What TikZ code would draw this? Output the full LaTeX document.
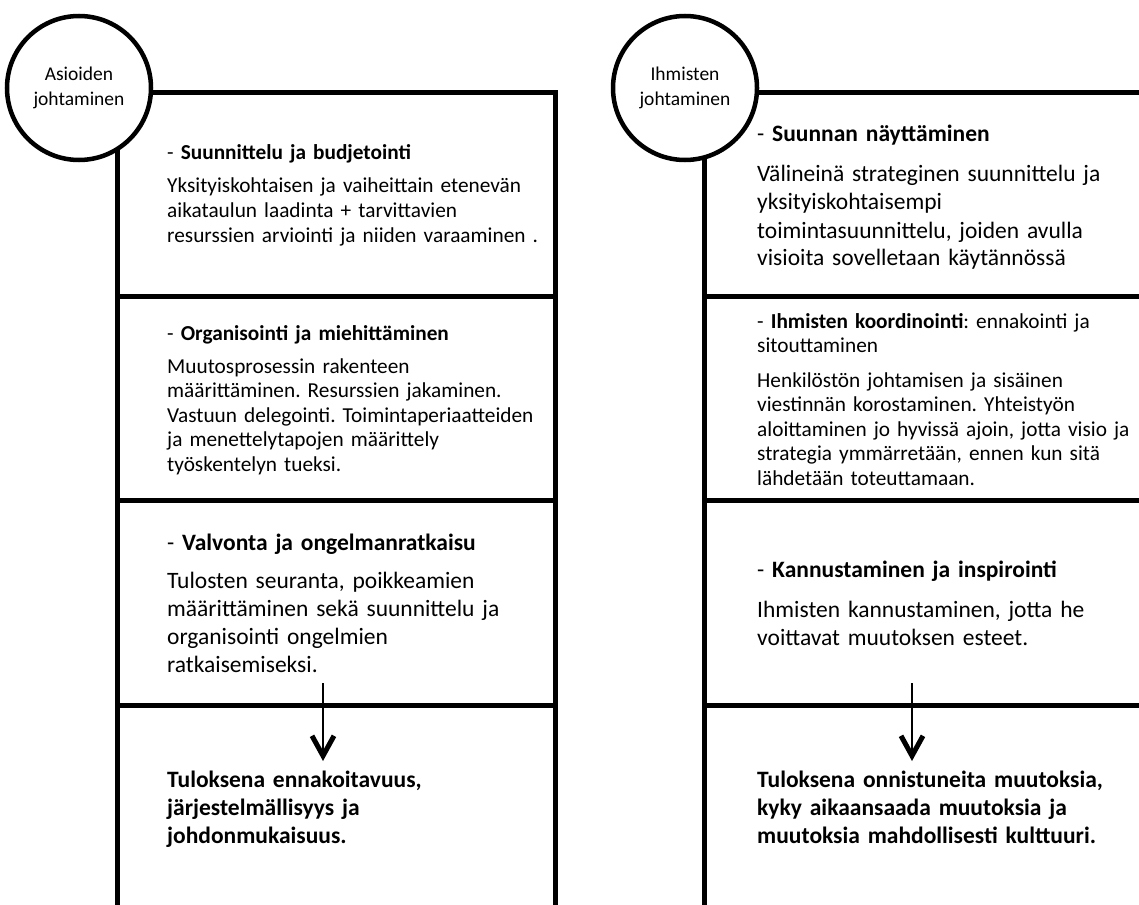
\documentclass[tikz,border=0pt]{standalone}
\usepackage{fontspec}
\setmainfont{Carlito}
\frenchspacing
\usetikzlibrary{arrows.meta}
\definecolor{InkBlack}{HTML}{000000}
\tikzset{
  topic/.style={circle, draw=InkBlack, line width=4.5pt, fill=white, minimum size=144pt, inner sep=0pt, align=center, font=\fontsize{19.5}{25}\selectfont},
  frame/.style={draw=InkBlack, line width=5pt},
  smalltext/.style={anchor=base west, inner sep=0pt, text width=380pt, align=left, font=\fontsize{21.3}{24.5}\selectfont},
  bigtext/.style={anchor=base west, inner sep=0pt, text width=380pt, align=left, font=\fontsize{23.5}{28}\selectfont},
  downarrow/.style={-{Straight Barb[length=20pt, width=22pt, line width=5pt]}, line width=1.8pt, draw=InkBlack}
}

\begin{document}
\begin{tikzpicture}[x=1pt, y=-1pt]
\useasboundingbox (0,0) rectangle (1139,904);
% left column frame
\draw[frame] (80,93) -- (555,93) -- (555,910);
\draw[frame] (117,88) -- (117,910);
\draw[frame] (117,296) -- (555,296);
\draw[frame] (117,500) -- (555,500);
\draw[frame] (117,705) -- (555,705);
% right column frame
\draw[frame] (685,93) -- (1150,93);
\draw[frame] (704,88) -- (704,910);
\draw[frame] (704,296) -- (1150,296);
\draw[frame] (704,500) -- (1150,500);
\draw[frame] (704,705) -- (1150,705);
\node[topic] (asiat) at (79,88) {Asioiden\\johtaminen};
\node[topic] (ihmiset) at (685,88) {Ihmisten\\johtaminen};
% left column texts
\node[smalltext] (suunhead) at (167,160) {- \textbf{Suunnittelu ja budjetointi}};
\node[smalltext] (suunbody) at (167,193) {Yksityiskohtaisen ja vaiheittain etenevän\\aikataulun laadinta + tarvittavien\\resurssien arviointi ja niiden varaaminen .};
\node[smalltext] (orghead) at (167,340) {- \textbf{Organisointi ja miehittäminen}};
\node[smalltext] (orgbody) at (167,373) {Muutosprosessin rakenteen\\määrittäminen. Resurssien jakaminen.\\Vastuun delegointi. Toimintaperiaatteiden\\ja menettelytapojen määrittely\\työskentelyn tueksi.};
\node[bigtext] (valhead) at (167,550) {- \textbf{Valvonta ja ongelmanratkaisu}};
\node[bigtext] (valbody) at (167,588) {Tulosten seuranta, poikkeamien\\määrittäminen sekä suunnittelu ja\\organisointi ongelmien\\ratkaisemiseksi.};
\node[bigtext] (asiatres) at (167,787) {\textbf{Tuloksena ennakoitavuus,\\järjestelmällisyys ja\\johdonmukaisuus.}};
% right column texts
\node[bigtext] (suunnhead) at (757,142) {- \textbf{Suunnan näyttäminen}};
\node[bigtext] (suunnbody) at (757,182) {Välineinä strateginen suunnittelu ja\\yksityiskohtaisempi\\toimintasuunnittelu, joiden avulla\\visioita sovelletaan käytännössä};
\node[smalltext] (koorhead) at (757,328) {- \textbf{Ihmisten koordinointi}: ennakointi ja\\sitouttaminen};
\node[smalltext] (koorbody) at (757,387) {Henkilöstön johtamisen ja sisäinen\\viestinnän korostaminen. Yhteistyön\\aloittaminen jo hyvissä ajoin, jotta visio ja\\strategia ymmärretään, ennen kun sitä\\lähdetään toteuttamaan.};
\node[bigtext] (kannhead) at (757,577) {- \textbf{Kannustaminen ja inspirointi}};
\node[bigtext] (kannbody) at (757,617) {Ihmisten kannustaminen, jotta he\\voittavat muutoksen esteet.};
\node[bigtext] (ihmisetres) at (757,787) {\textbf{Tuloksena onnistuneita muutoksia,\\kyky aikaansaada muutoksia ja\\muutoksia mahdollisesti kulttuuri.}};
% arrows
\coordinate (asiatfrom) at (323,683);
\coordinate (asiatto) at (323,761);
\coordinate (ihmisetfrom) at (912,683);
\coordinate (ihmisetto) at (912,761);
\draw[downarrow] (asiatfrom) -- (asiatto);
\draw[downarrow] (ihmisetfrom) -- (ihmisetto);
\end{tikzpicture}
\end{document}
